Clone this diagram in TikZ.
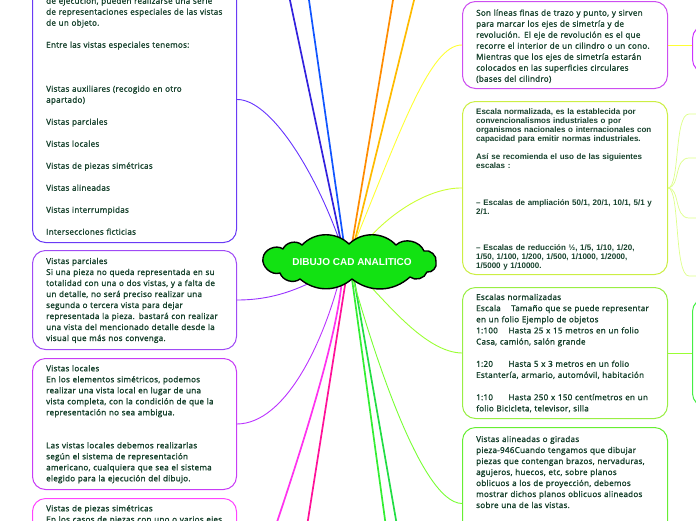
\documentclass[tikz,border=0pt]{standalone}
\usepackage{fontspec}
\setmainfont{Open Sans}[AutoFakeBold=1.4, LetterSpace=3]
\newfontfamily\arialfont{Liberation Sans}
\definecolor{txtc}{HTML}{15402B}
\definecolor{cA}{HTML}{6A3BF5}
\definecolor{cB}{HTML}{A04BF5}
\definecolor{cC}{HTML}{C83CF5}
\definecolor{cD}{HTML}{FF44FF}
\definecolor{cE}{HTML}{CC4EF0}
\definecolor{cF}{HTML}{CCEE44}
\definecolor{cG}{HTML}{99EE44}
\definecolor{cH}{HTML}{66EE33}
\definecolor{cR1}{HTML}{CC33FF}
\definecolor{cR2}{HTML}{44EE44}
\definecolor{lA}{HTML}{6633FF}
\definecolor{lB}{HTML}{9933FF}
\definecolor{lC}{HTML}{BB33FF}
\definecolor{lE}{HTML}{FFFF33}
\definecolor{lF}{HTML}{CCFF33}
\definecolor{lG}{HTML}{99FF33}
\definecolor{lH}{HTML}{77FF33}
\definecolor{lFb}{HTML}{DDFF88}
\definecolor{tDB}{HTML}{3322DD}
\definecolor{tB}{HTML}{1155FF}
\definecolor{tO}{HTML}{FF8C00}
\definecolor{tY}{HTML}{FFBB00}
\definecolor{bM}{HTML}{FF33EE}
\definecolor{bP}{HTML}{FF1199}
\definecolor{bG1}{HTML}{33EE33}
\definecolor{bG2}{HTML}{22DD44}
\definecolor{cloudg}{HTML}{12E212}
\begin{document}
\begin{tikzpicture}[x=1pt,y=-1pt,
  box/.style={draw=#1, line width=1pt, rounded corners=13pt, minimum width=204pt, inner sep=0pt, anchor=north west},
  rbox/.style={draw=#1, line width=1pt, rounded corners=13pt, minimum width=100pt, inner sep=0pt, anchor=north west},
  body/.style={anchor=base west, inner sep=0pt, text width=220pt, align=left, text=txtc, font=\fontsize{8.1}{11}\selectfont\bfseries},
  arialbody/.style={body, font=\arialfont\fontsize{8}{9.1}\selectfont\bfseries},
  thinline/.style={line width=0.9pt},
  thickline/.style={line width=1.7pt},
  lobe/.style={bend left=#1}]
\useasboundingbox (0,0) rectangle (696,520);
\clip (0,0) rectangle (696,520);

% boxes
\node[box=cA, minimum height=286pt] (A) at (32,-44) {};
\node[box=cB, minimum height=99pt] (B) at (32,250) {};
\node[box=cC, minimum height=131pt] (C) at (32,358) {};
\node[box=cD, minimum height=100pt] (D) at (32,498) {};
\node[box=cE, minimum height=87pt, minimum width=205pt] (E) at (462,1) {};
\node[box=cF, minimum height=173pt, minimum width=205pt] (F) at (462,101) {};
\node[box=cG, minimum height=131pt, minimum width=205pt] (G) at (462,287) {};
\node[box=cH, minimum height=152pt, minimum width=205pt] (H) at (462,427) {};
\node[rbox=cR1, minimum height=47pt] (R1) at (692,25) {};
\node[rbox=cR2, minimum height=108pt] (R2) at (692,298) {};

% hub coordinates
\coordinate (hA) at (341,245);
\coordinate (hB) at (322,277);
\coordinate (hC) at (339,281);
\coordinate (hE) at (354,244);
\coordinate (hF) at (363,245);
\coordinate (hG) at (363,279);
\coordinate (hH) at (353,279);
\coordinate (hT1) at (341.5,244);
\coordinate (hT2) at (344,244);
\coordinate (hT3) at (352,244);
\coordinate (hT4) at (354,244);
\coordinate (hB1) at (342,279);
\coordinate (hB2) at (346,279);
\coordinate (hB3) at (352,279);
\coordinate (hB4) at (354,279);
\coordinate (oT1) at (285.7,-20);
\coordinate (oT2) at (306.1,-20);
\coordinate (oT3) at (396.4,-20);
\coordinate (oT4) at (419,-20);
\coordinate (oB1) at (271,540);
\coordinate (oB2) at (304.8,540);
\coordinate (oB3) at (387.8,540);
\coordinate (oB4) at (399.5,540);
\coordinate (f1) at (700,114);
\coordinate (f2) at (700,158);
\coordinate (f3) at (700,218);
\coordinate (f4) at (700,276);

% thick connectors to off-canvas topics
\draw[thickline, tDB] (oT1) -- (hT1);
\draw[thickline, tB] (oT2) -- (hT2);
\draw[thickline, tO] (oT3) -- (hT3);
\draw[thickline, tY] (oT4) -- (hT4);
\draw[thickline, bM] (hB1) .. controls (337,340) and (298,460) .. (oB1);
\draw[thickline, bP] (hB2) -- (oB2);
\draw[thickline, bG1] (hB3) -- (oB3);
\draw[thickline, bG2] (hB4) -- (oB4);

% thin connectors to boxes
\draw[thinline, lA] (A.east) .. controls (270,99) and (315,170) .. (hA);
\draw[thinline, lB] (B.east) .. controls (275,300) and (300,288) .. (hB);
\draw[thinline, lC] (C.east) .. controls (285,423.5) and (322,345) .. (hC);
\draw[thinline, lE] (E.west) .. controls (430,44.5) and (400,132) .. (hE);
\draw[thinline, lF] (F.west) .. controls (430,187.5) and (390,212) .. (hF);
\draw[thinline, lG] (G.west) .. controls (425,352.5) and (385,300) .. (hG);
\draw[thinline, lH] (H.west) .. controls (420,503) and (370,340) .. (hH);

% right side connectors
\draw[thinline, lE] (E.east) -- (E.east -| R1.west);
\draw[thinline, lG] (G.east) -- (G.east -| R2.west);
\draw[line width=0.7pt, lFb] (F.east) .. controls (680,187.5) and (674,114) .. (689,114) -- (f1);
\draw[line width=0.7pt, lFb] (F.east) .. controls (680,187.5) and (674,158) .. (689,158) -- (f2);
\draw[line width=0.7pt, lFb] (F.east) .. controls (680,187.5) and (674,218) .. (689,218) -- (f3);
\draw[line width=0.7pt, lFb] (F.east) .. controls (680,187.5) and (674,276) .. (689,276) -- (f4);

% texts
\node[body] (tA) at (46,3.7) {de ejecución, pueden realizarse una serie\\
de representaciones especiales de las vistas\\
de un objeto.\\[11pt]
Entre las vistas especiales tenemos:\\[33pt]
Vistas auxiliares (recogido en otro\\
apartado)\\[11pt]
Vistas parciales\\[11pt]
Vistas locales\\[11pt]
Vistas de piezas simétricas\\[11pt]
Vistas alineadas\\[11pt]
Vistas interrumpidas\\[11pt]
Intersecciones ficticias};

\node[body] (tB) at (46,264) {Vistas parciales\\
Si una pieza no queda representada en su\\
totalidad con una o dos vistas, y a falta de\\
un detalle, no será preciso realizar una\\
segunda o tercera vista para dejar\\
representada la pieza. bastará con realizar\\
una vista del mencionado detalle desde la\\
visual que más nos convenga.};

\node[body] (tC) at (46,371.3) {Vistas locales\\
En los elementos simétricos, podemos\\
realizar una vista local en lugar de una\\
vista completa, con la condición de que la\\
representación no sea ambigua.\\[22pt]
Las vistas locales debemos realizarlas\\
según el sistema de representación\\
americano, cualquiera que sea el sistema\\
elegido para la ejecución del dibujo.};

\node[body] (tD) at (46,511.3) {Vistas de piezas simétricas\\
En los casos de piezas con uno o varios ejes};

\node[body] (tE) at (476,15.7) {Son líneas finas de trazo y punto, y sirven\\
para marcar los ejes de simetría y de\\
revolución. El eje de revolución es el que\\
recorre el interior de un cilindro o un cono.\\
Mientras que los ejes de simetría estarán\\
colocados en las superficies circulares\\
(bases del cilindro)};

\node[arialbody] (tF) at (476,114) {Escala normalizada, es la establecida por\\
convencionalismos industriales o por\\
organismos nacionales o internacionales con\\
capacidad para emitir normas industriales.\\[9.1pt]
Así se recomienda el uso de las siguientes\\
escalas :\\[27.3pt]
– Escalas de ampliación 50/1, 20/1, 10/1, 5/1 y\\
2/1.\\[27.3pt]
– Escalas de reducción ½, 1/5, 1/10, 1/20,\\
1/50, 1/100, 1/200, 1/500, 1/1000, 1/2000,\\
1/5000 y 1/10000.};

\node[body, font=\fontsize{8.1}{11.13}\selectfont\bfseries] (tG) at (476,300) {Escalas normalizadas\\
\makebox[35pt][l]{Escala}Tamaño que se puede representar\\
en un folio Ejemplo de objetos\\
\makebox[32.3pt][l]{1:100}Hasta 25 x 15 metros en un folio\\
Casa, camión, salón grande\\[11.13pt]
\makebox[32.3pt][l]{1:20}Hasta 5 x 3 metros en un folio\\
Estantería, armario, automóvil, habitación\\[11.13pt]
\makebox[32.3pt][l]{1:10}Hasta 250 x 150 centímetros en un\\
folio Bicicleta, televisor, silla};

\node[body] (tH) at (476,442) {Vistas alineadas o giradas\\
pieza-946Cuando tengamos que dibujar\\
piezas que contengan brazos, nervaduras,\\
agujeros, huecos, etc, sobre planos\\
oblicuos a los de proyección, debemos\\
mostrar dichos planos oblicuos alineados\\
sobre una de las vistas.};

% central cloud
\filldraw[draw=black, fill=cloudg, line width=1.4pt, line join=round]
  (263,258) to[lobe=60] (283,249) to[lobe=55] (302,245) to[lobe=45] (349,244)
  to[lobe=45] (396,245) to[lobe=55] (424,251) to[lobe=60] (436,262)
  to[lobe=60] (427,272) to[lobe=55] (410,277) to[lobe=40] (352,279)
  to[lobe=40] (300,279) to[lobe=55] (280,273) to[lobe=60] cycle;
\node[text=white, inner sep=0pt, font=\arialfont\bfseries\fontsize{10}{12}\selectfont] (ct) at (352,262.5) {DIBUJO CAD ANALITICO};
\end{tikzpicture}
\end{document}
